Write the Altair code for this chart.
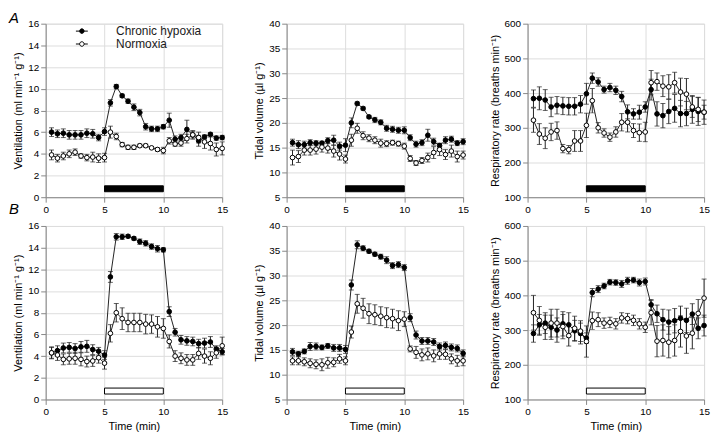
import altair as alt
import pandas as pd

TIME = [0.5, 1.0, 1.5, 2.0, 2.5, 3.0, 3.5, 4.0, 4.5, 5.0, 5.5, 6.0, 6.5, 7.0, 7.5,
        8.0, 8.5, 9.0, 9.5, 10.0, 10.5, 11.0, 11.5, 12.0, 12.5, 13.0, 13.5, 14.0, 14.5, 15.0]
GROUPS = ["Chronic hypoxia", "Normoxia"]
STIM_START = [5]
STIM_END = [10]
X_TICKS = [0, 5, 10, 15]

# Panel A - ventilation
A_VENT_CH = [6.0, 5.85, 5.9, 5.75, 5.75, 5.75, 5.9, 5.85, 5.5, 6.05, 8.7, 10.2, 9.35, 8.85, 8.3,
             7.8, 6.5, 6.3, 6.3, 6.5, 7.1, 5.35, 5.5, 6.25, 5.75, 5.2, 5.55, 5.8, 5.45, 5.5]
A_VENT_CH_SE = [0.4, 0.35, 0.4, 0.4, 0.4, 0.4, 0.4, 0.4, 0.3, 0.35, 0.3, 0.2, 0.15, 0.2, 0.3,
                0.3, 0.3, 0.25, 0.25, 0.2, 0.65, 0.3, 0.3, 0.85, 0.4, 0.5, 0.2, 0.15, 0.2, 0.2]
A_VENT_NX = [3.9, 3.6, 3.8, 4.0, 4.15, 3.8, 3.65, 3.7, 3.6, 3.65, 6.0, 5.6, 4.85, 4.6, 4.6,
             4.75, 4.75, 4.55, 4.4, 4.3, 5.2, 4.9, 5.0, 5.4, 5.75, 5.5, 5.1, 4.95, 4.4, 4.5]
A_VENT_NX_SE = [0.45, 0.35, 0.35, 0.35, 0.3, 0.2, 0.3, 0.45, 0.4, 0.4, 0.55, 0.3, 0.2, 0.2, 0.2,
                0.15, 0.15, 0.1, 0.15, 0.3, 0.3, 0.2, 0.3, 0.4, 0.3, 0.5, 0.6, 0.6, 0.6, 0.6]

# Panel A - tidal volume
A_TV_CH = [16.0, 15.6, 15.6, 16.0, 15.9, 15.9, 16.4, 16.5, 15.3, 15.5, 20.0, 23.9, 22.9, 21.2, 20.6,
           20.1, 18.9, 18.7, 18.5, 18.5, 17.0, 15.7, 16.0, 17.5, 16.2, 15.4, 16.5, 16.7, 15.9, 16.2]
A_TV_CH_SE = [0.7, 0.8, 0.7, 0.6, 0.5, 0.4, 0.6, 1.0, 0.8, 1.3, 1.0, 0.3, 0.3, 0.3, 0.5,
              0.5, 0.6, 0.6, 0.6, 0.7, 0.6, 0.6, 0.6, 1.2, 0.7, 0.5, 0.7, 0.6, 0.5, 0.6]
A_TV_NX = [13.0, 13.2, 14.5, 14.5, 14.7, 15.1, 14.9, 14.3, 13.7, 12.7, 16.5, 18.9, 17.4, 16.9, 16.5,
           15.9, 15.8, 16.0, 15.8, 15.3, 12.8, 11.9, 12.4, 13.0, 14.0, 14.6, 13.6, 14.3, 13.2, 13.5]
A_TV_NX_SE = [1.5, 1.2, 1.0, 1.0, 1.0, 1.0, 1.0, 1.2, 1.2, 0.8, 1.2, 1.0, 0.8, 0.7, 0.7,
              0.8, 0.6, 0.5, 0.5, 0.6, 0.6, 0.5, 0.6, 0.9, 1.2, 1.2, 1.0, 1.2, 1.1, 0.8]

# Panel A - respiratory rate
A_RR_CH = [384, 385, 380, 360, 365, 363, 362, 362, 368, 398, 443, 432, 410, 416, 408,
           390, 346, 340, 345, 360, 410, 340, 335, 347, 356, 341, 341, 353, 347, 345]
A_RR_CH_SE = [25, 33, 30, 28, 25, 25, 25, 25, 25, 30, 15, 12, 10, 12, 12,
              15, 20, 15, 20, 15, 30, 35, 35, 35, 40, 38, 35, 40, 40, 35]
A_RR_NX = [322, 282, 270, 288, 292, 240, 237, 262, 262, 307, 378, 300, 285, 273, 288,
           316, 316, 292, 286, 288, 430, 433, 420, 418, 430, 403, 397, 360, 353, 345]
A_RR_NX_SE = [35, 30, 30, 25, 25, 12, 12, 30, 30, 35, 35, 15, 12, 12, 15,
              25, 28, 20, 25, 28, 35, 25, 30, 35, 30, 40, 45, 30, 35, 20]

# Panel B - ventilation
B_VENT_CH = [4.3, 4.5, 4.75, 4.8, 4.7, 4.85, 4.9, 4.6, 4.45, 4.1, 11.3, 15.0, 15.0, 15.05, 14.85,
             14.55, 14.4, 14.1, 13.9, 13.8, 8.1, 6.2, 5.5, 5.4, 5.35, 5.15, 5.2, 5.3, 4.65, 4.4]
B_VENT_CH_SE = [0.5, 0.45, 0.45, 0.45, 0.45, 0.5, 0.55, 0.45, 0.35, 0.4, 0.5, 0.3, 0.25, 0.15, 0.15,
                0.25, 0.25, 0.25, 0.3, 0.2, 0.45, 0.35, 0.4, 0.4, 0.4, 0.4, 0.45, 0.5, 0.3, 0.3]
B_VENT_NX = [4.3, 4.1, 3.7, 3.75, 3.8, 3.7, 3.5, 3.55, 3.85, 3.35, 6.1, 8.0, 7.45, 7.1, 7.1,
             7.1, 6.95, 6.95, 6.7, 6.55, 5.35, 4.0, 3.8, 3.65, 3.65, 4.25, 4.0, 3.8, 4.3, 4.95]
B_VENT_NX_SE = [0.55, 0.5, 0.5, 0.5, 0.55, 0.6, 0.5, 0.5, 0.5, 0.55, 0.8, 0.85, 1.0, 0.85, 0.85,
                0.85, 0.9, 0.85, 0.95, 0.9, 0.6, 0.5, 0.5, 0.5, 0.5, 0.55, 0.65, 0.6, 0.5, 0.8]

# Panel B - tidal volume
B_TV_CH = [14.6, 14.2, 14.7, 15.7, 15.7, 15.5, 15.8, 15.4, 15.4, 15.1, 28.1, 36.2, 35.5, 34.9, 34.3,
           33.8, 33.1, 32.0, 32.2, 31.6, 21.5, 18.0, 16.8, 16.8, 16.6, 15.7, 15.9, 15.5, 15.3, 14.3]
B_TV_CH_SE = [0.7, 0.5, 0.5, 0.8, 0.7, 0.5, 0.5, 0.7, 0.7, 0.8, 1.0, 0.8, 0.5, 0.4, 0.4,
              0.5, 0.7, 0.6, 0.6, 0.6, 0.8, 0.8, 0.7, 0.7, 0.7, 0.7, 0.7, 0.7, 0.7, 0.7]
B_TV_NX = [12.8, 12.8, 12.6, 12.3, 12.1, 12.0, 12.4, 12.5, 13.2, 12.8, 18.6, 24.3, 23.4, 22.3, 22.1,
           21.8, 21.5, 21.3, 20.9, 21.2, 15.2, 14.5, 14.0, 14.2, 13.8, 14.2, 14.1, 13.2, 12.8, 12.8]
B_TV_NX_SE = [0.8, 0.8, 0.8, 0.9, 0.9, 1.2, 1.1, 0.9, 0.9, 0.8, 1.2, 1.9, 2.0, 2.0, 2.0,
              1.9, 2.0, 1.9, 2.0, 1.5, 0.6, 1.2, 1.2, 1.2, 1.2, 1.1, 1.0, 1.0, 1.1, 1.0]

# Panel B - respiratory rate
B_RR_CH = [290, 315, 320, 308, 300, 318, 315, 298, 290, 277, 408, 418, 427, 438, 437,
           433, 442, 444, 437, 440, 373, 347, 330, 323, 327, 334, 328, 346, 305, 313]
B_RR_CH_SE = [25, 30, 30, 35, 35, 35, 35, 30, 30, 15, 12, 10, 8, 8, 8,
              10, 10, 8, 10, 10, 15, 25, 30, 35, 35, 35, 35, 30, 30, 30]
B_RR_NX = [350, 328, 308, 320, 320, 310, 284, 305, 297, 267, 327, 330, 320, 322, 318,
           335, 333, 328, 318, 308, 350, 268, 270, 265, 270, 296, 283, 291, 348, 392]
B_RR_NX_SE = [50, 40, 35, 40, 40, 35, 30, 35, 30, 45, 25, 20, 15, 15, 15,
              15, 15, 15, 15, 15, 35, 45, 45, 45, 45, 45, 50, 45, 40, 55]

VENT_TICKS = [0, 2, 4, 6, 8, 10, 12, 14, 16]
TV_TICKS = [5, 10, 15, 20, 25, 30, 35, 40]
RR_TICKS = [100, 200, 300, 400, 500, 600]

FONT = "Liberation Sans"
W = 178
H = 175
LEG_PATH = ("M-1,0L-0.38,0M0.38,0L1,0M-0.38,0A0.38,0.38,0,1,0,0.38,0"
            "A0.38,0.38,0,1,0,-0.38,0Z")


def panel(ch, ch_se, nx, nx_se, ydom, yticks, ytitle, bar_fill, xtitle,
          letter=None, letter_y=-5, show_legend=False):
    rows = []
    for g, m, e in ((GROUPS[0], ch, ch_se), (GROUPS[1], nx, nx_se)):
        for t, v, s in zip(TIME, m, e):
            rows.append({"t": t, "g": g, "v": v, "lo": v - s, "hi": v + s})
    df = pd.DataFrame(rows)
    xscale = alt.Scale(domain=[0, 15], nice=False, zero=False)
    yscale = alt.Scale(domain=ydom, nice=False, zero=False)
    xaxis = alt.Axis(values=X_TICKS, title=xtitle, labelFlush=False,
                     titleFontWeight="normal", titleFont=FONT)
    yaxis = alt.Axis(values=yticks, title=ytitle, titleFontWeight="normal", titleFont=FONT)
    X = alt.X("t:Q", scale=xscale, axis=xaxis)
    base = alt.Chart(df)

    rule = base.mark_rule(color="#222", strokeWidth=1).encode(
        x=X, y=alt.Y("lo:Q", scale=yscale, axis=yaxis), y2="hi:Q")
    tick_lo = base.mark_tick(orient="horizontal", size=5, thickness=1, color="#222").encode(
        x=X, y=alt.Y("lo:Q", scale=yscale, axis=yaxis))
    tick_hi = base.mark_tick(orient="horizontal", size=5, thickness=1, color="#222").encode(
        x=X, y=alt.Y("hi:Q", scale=yscale, axis=yaxis))
    line = base.mark_line(color="#222", strokeWidth=1).encode(
        x=X, y=alt.Y("v:Q", scale=yscale, axis=yaxis), detail="g:N")
    if show_legend:
        leg = alt.Legend(orient="none", legendX=30, legendY=1, title=None,
                         symbolType=LEG_PATH, symbolSize=144, symbolStrokeColor="black",
                         symbolStrokeWidth=1, labelFont=FONT, labelFontSize=12,
                         labelColor="#1a1a1a", labelOffset=28, rowPadding=0, padding=0)
    else:
        leg = None
    pts = base.mark_circle(size=22, stroke="black", strokeWidth=1, opacity=1).encode(
        x=X, y=alt.Y("v:Q", scale=yscale, axis=yaxis),
        fill=alt.Fill("g:N", scale=alt.Scale(domain=GROUPS, range=["black", "white"]),
                      legend=leg))
    stim = alt.Chart(pd.DataFrame({"start": STIM_START, "end": STIM_END})).mark_rect(
        fill=bar_fill, stroke="black", strokeWidth=1).encode(
        x=alt.X("start:Q", scale=xscale, axis=xaxis), x2="end:Q",
        y=alt.value(H - 11.5), y2=alt.value(H - 5.5))
    layers = [stim, rule, tick_lo, tick_hi, line, pts]
    if letter:
        lab = alt.Chart(pd.DataFrame({"lab": [letter]})).mark_text(
            fontStyle="italic", fontSize=15, font=FONT, align="left", baseline="middle",
            color="black").encode(x=alt.value(-37), y=alt.value(letter_y), text="lab:N")
        layers.append(lab)
    return alt.layer(*layers).properties(width=W, height=H)


p1 = panel(A_VENT_CH, A_VENT_CH_SE, A_VENT_NX, A_VENT_NX_SE, [0, 16], VENT_TICKS,
           "Ventilation (ml min⁻¹ g⁻¹)", "black", None, "A", -6, True)
p2 = panel(A_TV_CH, A_TV_CH_SE, A_TV_NX, A_TV_NX_SE, [5, 40], TV_TICKS,
           "Tidal volume (µl g⁻¹)", "black", None)
p3 = panel(A_RR_CH, A_RR_CH_SE, A_RR_NX, A_RR_NX_SE, [100, 600], RR_TICKS,
           "Respiratory rate (breaths min⁻¹)", "black", None)
p4 = panel(B_VENT_CH, B_VENT_CH_SE, B_VENT_NX, B_VENT_NX_SE, [0, 16], VENT_TICKS,
           "Ventilation (ml min⁻¹ g⁻¹)", "white", "Time (min)", "B", -17)
p5 = panel(B_TV_CH, B_TV_CH_SE, B_TV_NX, B_TV_NX_SE, [5, 40], TV_TICKS,
           "Tidal volume (µl g⁻¹)", "white", "Time (min)")
p6 = panel(B_RR_CH, B_RR_CH_SE, B_RR_NX, B_RR_NX_SE, [100, 600], RR_TICKS,
           "Respiratory rate (breaths min⁻¹)", "white", "Time (min)")

chart = alt.concat(p1, p2, p3, p4, p5, p6, columns=3,
                   spacing={"row": 29, "column": 65}, bounds="flush").resolve_legend(
    fill="independent"
).properties(
    padding={"left": 0, "top": 0, "right": 1, "bottom": 0}
).configure_view(stroke=None).configure_axis(
    grid=False, domainColor="#222", tickColor="#222", tickSize=4,
    labelFont=FONT, labelFontSize=12, labelColor="#1a1a1a", labelPadding=2,
    titleFont=FONT, titleFontSize=12, titleFontWeight="normal", titleColor="#1a1a1a",
    titlePadding=6
).configure(background="white")

chart.save("out.html", embed_options={"renderer": "svg", "actions": False})
